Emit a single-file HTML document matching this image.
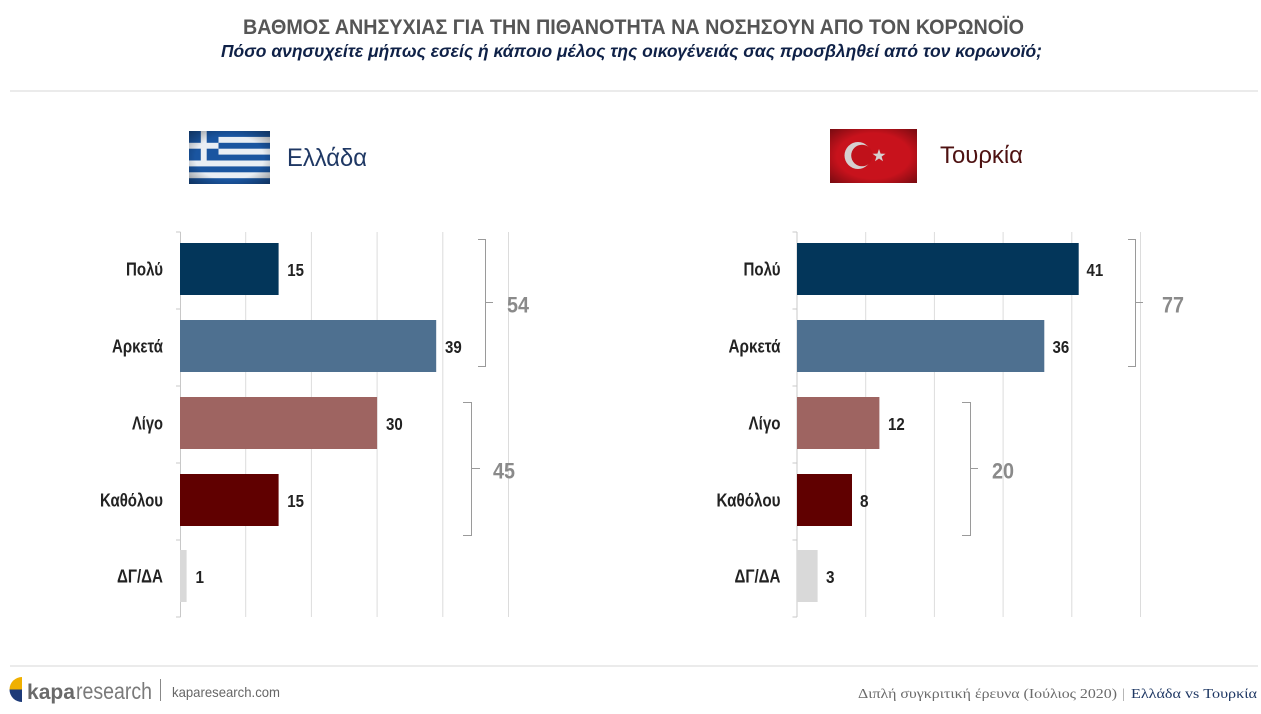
<!DOCTYPE html>
<html><head><meta charset="utf-8"><style>
html,body{margin:0;padding:0;background:#fff;}
svg{display:block;}
text{font-family:"Liberation Sans",Arial,sans-serif;}
</style></head><body>
<svg width="1261" height="714" viewBox="0 0 1261 714" xmlns="http://www.w3.org/2000/svg">
<defs>
<radialGradient id="vig" cx="50%" cy="50%" r="70%">
<stop offset="60%" stop-color="#000" stop-opacity="0"/>
<stop offset="100%" stop-color="#000" stop-opacity="0.4"/>
</radialGradient>
</defs>
<rect width="1261" height="714" fill="#fff"/>
<!-- Title -->
<text x="243" y="34" font-size="21" font-weight="bold" fill="#555" textLength="781" lengthAdjust="spacingAndGlyphs">ΒΑΘΜΟΣ ΑΝΗΣΥΧΙΑΣ ΓΙΑ ΤΗΝ ΠΙΘΑΝΟΤΗΤΑ ΝΑ ΝΟΣΗΣΟΥΝ ΑΠΟ ΤΟΝ ΚΟΡΩΝΟΪΟ</text>
<text x="221" y="57" font-size="18" font-weight="bold" font-style="italic" fill="#0f2147" textLength="821" lengthAdjust="spacingAndGlyphs">Πόσο ανησυχείτε μήπως εσείς ή κάποιο μέλος της οικογένειάς σας προσβληθεί από τον κορωνοϊό;</text>
<rect x="10" y="90" width="1248" height="2" fill="#ebebeb"/>

<!-- Greek flag -->
<g>
<rect x="189" y="131" width="81" height="53" fill="#1a55a0"/>
<rect x="189" y="136.9" width="81" height="5.9" fill="#e9eef4"/>
<rect x="189" y="148.7" width="81" height="5.9" fill="#e9eef4"/>
<rect x="189" y="160.5" width="81" height="5.9" fill="#e9eef4"/>
<rect x="189" y="172.3" width="81" height="5.9" fill="#e9eef4"/>
<rect x="189" y="131" width="29.5" height="29.5" fill="#1a55a0"/>
<rect x="189" y="142.8" width="29.5" height="5.9" fill="#e9eef4"/>
<rect x="200.8" y="131" width="5.9" height="29.5" fill="#e9eef4"/>
<rect x="189" y="131" width="81" height="53" fill="url(#vig)"/>
</g>
<text x="287" y="166" font-size="25" fill="#1f3864" textLength="80" lengthAdjust="spacingAndGlyphs">Ελλάδα</text>

<!-- Turkish flag -->
<g>
<rect x="830" y="129" width="87" height="54" fill="#c8121c"/>
<circle cx="858" cy="155.5" r="13.5" fill="#d6d0d0"/>
<circle cx="862" cy="155.5" r="10.8" fill="#c0111a"/>
<polygon points="879,149 880.6,153.6 885.5,153.7 881.6,156.6 883,161.3 879,158.5 875,161.3 876.4,156.6 872.5,153.7 877.4,153.6" fill="#d6d0d0"/>
<rect x="830" y="129" width="87" height="54" fill="url(#vig)"/>
</g>
<text x="940" y="163" font-size="24" fill="#4e1212" textLength="83" lengthAdjust="spacingAndGlyphs">Τουρκία</text>

<!-- LEFT CHART -->
<g stroke="#dcdcdc" stroke-width="1">
<line x1="245.7" y1="232" x2="245.7" y2="617"/>
<line x1="311.4" y1="232" x2="311.4" y2="617"/>
<line x1="377.1" y1="232" x2="377.1" y2="617"/>
<line x1="442.8" y1="232" x2="442.8" y2="617"/>
<line x1="508.5" y1="232" x2="508.5" y2="617"/>
</g>
<g stroke="#c8c8c8" stroke-width="1">
<line x1="180.5" y1="232" x2="180.5" y2="617"/>
<line x1="176" y1="232" x2="180.5" y2="232"/>
<line x1="176" y1="309" x2="180.5" y2="309"/>
<line x1="176" y1="386" x2="180.5" y2="386"/>
<line x1="176" y1="463" x2="180.5" y2="463"/>
<line x1="176" y1="540" x2="180.5" y2="540"/>
<line x1="176" y1="617" x2="180.5" y2="617"/>
</g>
<rect x="180" y="243" width="98.6" height="52" fill="#03365a"/>
<rect x="180" y="320" width="256.2" height="52" fill="#4e7090"/>
<rect x="180" y="397" width="197.1" height="52" fill="#9e6461"/>
<rect x="180" y="474" width="98.6" height="52" fill="#600000"/>
<rect x="180" y="550" width="6.6" height="52" fill="#d9d9d9"/>
<g font-size="18" font-weight="bold" fill="#222" text-anchor="end">
<text x="163" y="275.5" textLength="37" lengthAdjust="spacingAndGlyphs">Πολύ</text>
<text x="163" y="352.5" textLength="51" lengthAdjust="spacingAndGlyphs">Αρκετά</text>
<text x="163" y="429.5" textLength="31" lengthAdjust="spacingAndGlyphs">Λίγο</text>
<text x="163" y="506.5" textLength="63" lengthAdjust="spacingAndGlyphs">Καθόλου</text>
<text x="163" y="582.5" textLength="46" lengthAdjust="spacingAndGlyphs">ΔΓ/ΔΑ</text>
</g>
<g font-size="17.5" font-weight="bold" fill="#222">
<text x="287.3" y="276" textLength="16.7" lengthAdjust="spacingAndGlyphs">15</text>
<text x="445" y="353" textLength="16.7" lengthAdjust="spacingAndGlyphs">39</text>
<text x="386" y="430" textLength="16.7" lengthAdjust="spacingAndGlyphs">30</text>
<text x="287.3" y="507" textLength="16.7" lengthAdjust="spacingAndGlyphs">15</text>
<text x="195.5" y="583" textLength="8.5" lengthAdjust="spacingAndGlyphs">1</text>
</g>
<g stroke="#9a9a9a" stroke-width="1" fill="none">
<path d="M478 239.5 H485.5 V366.5 H478 M485.5 302.5 H493"/>
<path d="M463 402.5 H471.5 V535.5 H463 M471.5 468.5 H480"/>
</g>
<g font-size="22" font-weight="bold" fill="#8a8a8a">
<text x="507" y="312.5" textLength="22" lengthAdjust="spacingAndGlyphs">54</text>
<text x="493" y="478.5" textLength="22" lengthAdjust="spacingAndGlyphs">45</text>
</g>

<!-- RIGHT CHART -->
<g stroke="#dcdcdc" stroke-width="1">
<line x1="865.7" y1="232" x2="865.7" y2="617"/>
<line x1="934.4" y1="232" x2="934.4" y2="617"/>
<line x1="1003.1" y1="232" x2="1003.1" y2="617"/>
<line x1="1071.8" y1="232" x2="1071.8" y2="617"/>
<line x1="1140.5" y1="232" x2="1140.5" y2="617"/>
</g>
<g stroke="#c8c8c8" stroke-width="1">
<line x1="797" y1="232" x2="797" y2="617"/>
<line x1="792.5" y1="232" x2="797" y2="232"/>
<line x1="792.5" y1="309" x2="797" y2="309"/>
<line x1="792.5" y1="386" x2="797" y2="386"/>
<line x1="792.5" y1="463" x2="797" y2="463"/>
<line x1="792.5" y1="540" x2="797" y2="540"/>
<line x1="792.5" y1="617" x2="797" y2="617"/>
</g>
<rect x="797" y="243" width="281.7" height="52" fill="#03365a"/>
<rect x="797" y="320" width="247.3" height="52" fill="#4e7090"/>
<rect x="797" y="397" width="82.4" height="52" fill="#9e6461"/>
<rect x="797" y="474" width="55" height="52" fill="#600000"/>
<rect x="797" y="550" width="20.6" height="52" fill="#d9d9d9"/>
<g font-size="18" font-weight="bold" fill="#222" text-anchor="end">
<text x="780.5" y="275.5" textLength="37" lengthAdjust="spacingAndGlyphs">Πολύ</text>
<text x="780.5" y="352.5" textLength="52" lengthAdjust="spacingAndGlyphs">Αρκετά</text>
<text x="780.5" y="429.5" textLength="32" lengthAdjust="spacingAndGlyphs">Λίγο</text>
<text x="780.5" y="506.5" textLength="64" lengthAdjust="spacingAndGlyphs">Καθόλου</text>
<text x="780.5" y="582.5" textLength="46" lengthAdjust="spacingAndGlyphs">ΔΓ/ΔΑ</text>
</g>
<g font-size="17.5" font-weight="bold" fill="#222">
<text x="1086.5" y="276" textLength="16.7" lengthAdjust="spacingAndGlyphs">41</text>
<text x="1052.5" y="353" textLength="16.7" lengthAdjust="spacingAndGlyphs">36</text>
<text x="888" y="430" textLength="16.7" lengthAdjust="spacingAndGlyphs">12</text>
<text x="860" y="507" textLength="8.5" lengthAdjust="spacingAndGlyphs">8</text>
<text x="826" y="583" textLength="8.5" lengthAdjust="spacingAndGlyphs">3</text>
</g>
<g stroke="#9a9a9a" stroke-width="1" fill="none">
<path d="M1128 239.5 H1135.5 V366.5 H1128 M1135.5 302.5 H1143"/>
<path d="M962 402.5 H970.5 V535.5 H962 M970.5 468.5 H978"/>
</g>
<g font-size="22" font-weight="bold" fill="#8a8a8a">
<text x="1162" y="312.5" textLength="22" lengthAdjust="spacingAndGlyphs">77</text>
<text x="992" y="478.5" textLength="22" lengthAdjust="spacingAndGlyphs">20</text>
</g>

<!-- Footer -->
<rect x="10" y="665" width="1248" height="2" fill="#ebebeb"/>
<path d="M22 677 A12.5 12.5 0 0 0 9.5 689.5 H22 Z" fill="#f0b000"/>
<path d="M22 702 A12.5 12.5 0 0 1 9.5 689.5 H22 Z" fill="#1d3a78"/>
<text x="27" y="699" font-size="21" font-weight="bold" fill="#6a6a6a" textLength="48" lengthAdjust="spacingAndGlyphs">kapa</text>
<text x="76" y="699" font-size="23" fill="#7a7a7a" textLength="76" lengthAdjust="spacingAndGlyphs">research</text>
<rect x="160" y="679" width="1" height="22" fill="#888"/>
<text x="172" y="697" font-size="14" fill="#666" textLength="108" lengthAdjust="spacingAndGlyphs">kaparesearch.com</text>
<text x="858" y="698" font-size="14" fill="#6b6b6b" style="font-family:'Liberation Serif',serif" textLength="259" lengthAdjust="spacingAndGlyphs">Διπλή συγκριτική έρευνα (Ιούλιος 2020)</text>
<text x="1122" y="698" font-size="14" fill="#999" style="font-family:'Liberation Serif',serif">|</text>
<text x="1131" y="698" font-size="14" fill="#1f3864" style="font-family:'Liberation Serif',serif" textLength="126" lengthAdjust="spacingAndGlyphs">Ελλάδα vs Τουρκία</text>
</svg>
</body></html>
